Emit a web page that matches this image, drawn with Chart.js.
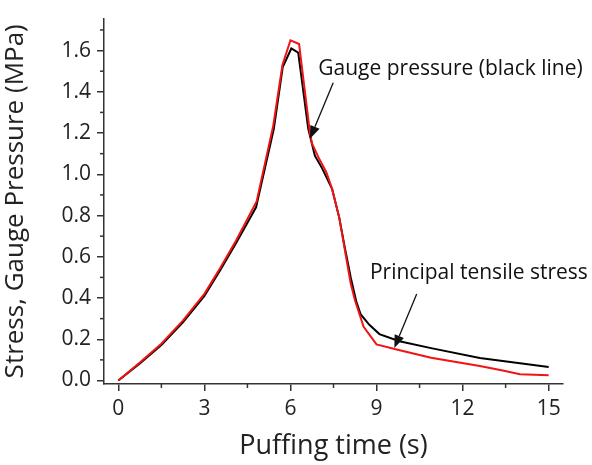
<!DOCTYPE html>
<html>
<head>
<meta charset="utf-8">
<script src="https://cdn.jsdelivr.net/npm/chart.js@4/dist/chart.umd.min.js"></script>
<style>
  body { margin: 0; background: #fff; }
  canvas { display: block; }
</style>
</head>
<body>
<canvas id="puffChart" width="592" height="465"></canvas>
<script>
// Gauge pressure (black line)
const timeGauge = [0, 0.75, 1.5, 2.25, 3, 3.55, 4.1, 4.8, 5.42, 5.73, 6.03, 6.27, 6.62, 6.85, 7.1, 7.45, 7.7, 7.9, 8.1, 8.3, 8.45, 8.75, 9.1, 9.8, 10.9, 12.6, 15];
const gaugePressure = [0, 0.083, 0.172, 0.282, 0.41, 0.535, 0.665, 0.84, 1.22, 1.52, 1.61, 1.59, 1.22, 1.09, 1.03, 0.93, 0.79, 0.64, 0.5, 0.38, 0.32, 0.27, 0.225, 0.19, 0.157, 0.109, 0.066];

// Principal tensile stress (red line)
const timeStress = [0, 0.75, 1.5, 2.25, 3, 3.55, 4.1, 4.82, 5.4, 5.72, 6.0, 6.3, 6.68, 6.75, 7.0, 7.25, 7.45, 7.7, 7.9, 8.1, 8.25, 8.55, 9.0, 9.7, 10.9, 12.6, 13.4, 14.0, 15];
const tensileStress = [0, 0.087, 0.178, 0.29, 0.42, 0.545, 0.678, 0.868, 1.236, 1.53, 1.65, 1.632, 1.2, 1.15, 1.075, 1.01, 0.93, 0.79, 0.63, 0.47, 0.388, 0.26, 0.175, 0.15, 0.11, 0.07, 0.048, 0.03, 0.025];

const xTicks = [0, 3, 6, 9, 12, 15];
const yTicks = [0, 0.2, 0.4, 0.6, 0.8, 1.0, 1.2, 1.4, 1.6];
const xMinorTicks = [1.5, 4.5, 7.5, 10.5, 13.5];
const yMinorTicks = [0.1, 0.3, 0.5, 0.7, 0.9, 1.1, 1.3, 1.5, 1.7];

const axisColor = '#333';
const textColor = '#222';
const font = '"Open Sans", sans-serif';

function toPoints(xs, ys) {
    return xs.map((x, i) => ({ x: x, y: ys[i] }));
}

// minor ticks + annotation arrows, drawn through the chart's scales
const extrasPlugin = {
    id: 'extras',
    afterDraw(chart) {
        const ctx = chart.ctx;
        const xs = chart.scales.x;
        const ys = chart.scales.y;
        const area = chart.chartArea;

        ctx.save();
        ctx.strokeStyle = axisColor;
        ctx.lineWidth = 1.5;
        xMinorTicks.forEach(v => {
            const px = xs.getPixelForValue(v);
            ctx.beginPath();
            ctx.moveTo(px, area.bottom);
            ctx.lineTo(px, area.bottom + 4);
            ctx.stroke();
        });
        yMinorTicks.forEach(v => {
            const py = ys.getPixelForValue(v);
            ctx.beginPath();
            ctx.moveTo(area.left, py);
            ctx.lineTo(area.left - 4, py);
            ctx.stroke();
        });

        // annotations: text position and arrow in data units
        const notes = [
            { text: 'Gauge pressure (black line)', tx: 6.97, ty: 1.51, from: [7.49, 1.444], to: [6.68, 1.172] },
            { text: 'Principal tensile stress', tx: 8.77, ty: 0.523, from: [10.4, 0.42], to: [9.62, 0.157] }
        ];
        ctx.fillStyle = '#111';
        ctx.strokeStyle = '#111';
        ctx.font = '21px ' + font;
        ctx.textBaseline = 'middle';
        ctx.textAlign = 'left';
        notes.forEach(n => {
            ctx.fillText(n.text, xs.getPixelForValue(n.tx), ys.getPixelForValue(n.ty));
            const x0 = xs.getPixelForValue(n.from[0]);
            const y0 = ys.getPixelForValue(n.from[1]);
            const x1 = xs.getPixelForValue(n.to[0]);
            const y1 = ys.getPixelForValue(n.to[1]);
            const ang = Math.atan2(y1 - y0, x1 - x0);
            const headLen = 13;
            const headW = 5;
            const bx = x1 - headLen * Math.cos(ang);
            const by = y1 - headLen * Math.sin(ang);
            ctx.lineWidth = 1.3;
            ctx.beginPath();
            ctx.moveTo(x0, y0);
            ctx.lineTo(bx, by);
            ctx.stroke();
            ctx.beginPath();
            ctx.moveTo(x1, y1);
            ctx.lineTo(bx + headW * Math.sin(ang), by - headW * Math.cos(ang));
            ctx.lineTo(bx - headW * Math.sin(ang), by + headW * Math.cos(ang));
            ctx.closePath();
            ctx.fill();
        });
        ctx.restore();
    }
};

const ctx = document.getElementById('puffChart').getContext('2d');

new Chart(ctx, {
    type: 'line',
    data: {
        datasets: [{
            label: 'Principal tensile stress',
            data: toPoints(timeStress, tensileStress),
            borderColor: 'rgb(240, 20, 20)',
            borderWidth: 2,
            pointRadius: 0,
            fill: false,
            tension: 0
        }, {
            label: 'Gauge pressure',
            data: toPoints(timeGauge, gaugePressure),
            borderColor: '#000',
            borderWidth: 2,
            pointRadius: 0,
            fill: false,
            tension: 0
        }]
    },
    options: {
        responsive: false,
        animation: false,
        layout: { padding: { top: 15, right: 29, left: 0, bottom: 0 } },
        plugins: {
            legend: { display: false },
            tooltip: { enabled: false }
        },
        scales: {
            x: {
                type: 'linear',
                min: -0.5,
                max: 15.5,
                border: { color: axisColor, width: 1.5 },
                grid: { drawOnChartArea: false, tickLength: 7, color: axisColor, lineWidth: 1.5 },
                afterBuildTicks: scale => { scale.ticks = xTicks.map(v => ({ value: v })); },
                afterFit: scale => { scale.height = 81; },
                ticks: {
                    color: textColor,
                    font: { family: font, size: 21 },
                    padding: 5,
                    maxRotation: 0,
                    callback: v => String(v)
                },
                title: {
                    display: true,
                    text: 'Puffing time (s)',
                    color: textColor,
                    font: { family: font, size: 27 },
                    padding: { top: 0, bottom: 2 }
                }
            },
            y: {
                min: -0.017,
                max: 1.755,
                border: { color: axisColor, width: 1.5 },
                grid: { drawOnChartArea: false, tickLength: 7, color: axisColor, lineWidth: 1.5 },
                afterBuildTicks: scale => { scale.ticks = yTicks.map(v => ({ value: v })); },
                afterFit: scale => { scale.width = 104; },
                ticks: {
                    color: textColor,
                    font: { family: font, size: 21 },
                    padding: 6,
                    callback: v => v.toFixed(1)
                },
                title: {
                    display: true,
                    text: 'Stress, Gauge Pressure (MPa)',
                    color: textColor,
                    font: { family: font, size: 26 },
                    padding: { top: 0, bottom: 12 }
                }
            }
        }
    },
    plugins: [extrasPlugin]
});
</script>
</body>
</html>
